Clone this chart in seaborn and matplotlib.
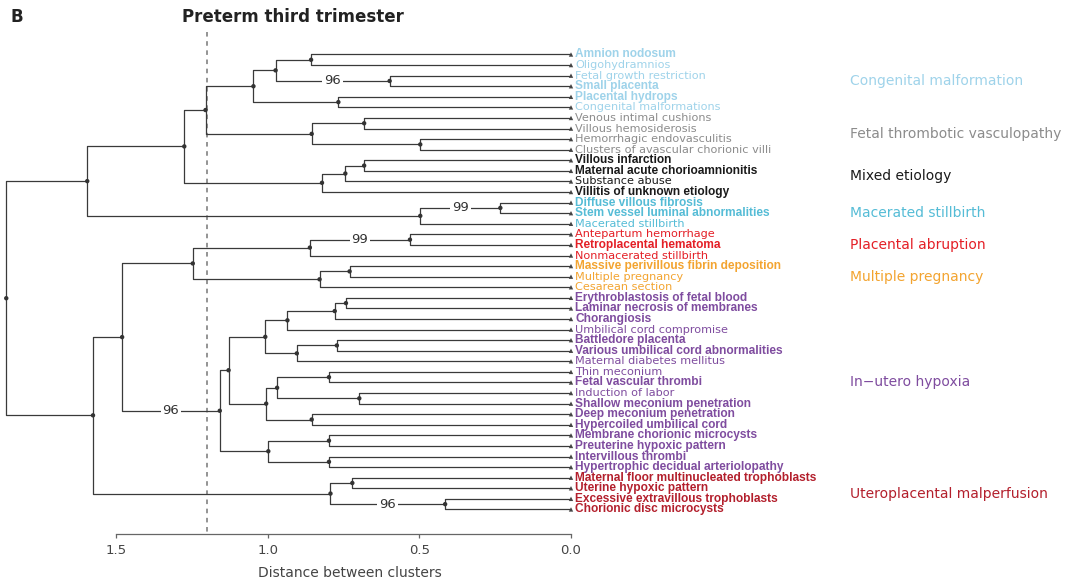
import numpy as np
import pandas as pd
import matplotlib
matplotlib.use("Agg")
import matplotlib.pyplot as plt
import seaborn as sns

# ---------------- data ----------------
leaf_names = [
    "Amnion nodosum", "Oligohydramnios", "Fetal growth restriction", "Small placenta",
    "Placental hydrops", "Congenital malformations",
    "Venous intimal cushions", "Villous hemosiderosis", "Hemorrhagic endovasculitis",
    "Clusters of avascular chorionic villi",
    "Villous infarction", "Maternal acute chorioamnionitis", "Substance abuse",
    "Villitis of unknown etiology",
    "Diffuse villous fibrosis", "Stem vessel luminal abnormalities", "Macerated stillbirth",
    "Antepartum hemorrhage", "Retroplacental hematoma", "Nonmacerated stillbirth",
    "Massive perivillous fibrin deposition", "Multiple pregnancy", "Cesarean section",
    "Erythroblastosis of fetal blood", "Laminar necrosis of membranes", "Chorangiosis",
    "Umbilical cord compromise", "Battledore placenta", "Various umbilical cord abnormalities",
    "Maternal diabetes mellitus", "Thin meconium", "Fetal vascular thrombi",
    "Induction of labor", "Shallow meconium penetration", "Deep meconium penetration",
    "Hypercoiled umbilical cord", "Membrane chorionic microcysts",
    "Preuterine hypoxic pattern", "Intervillous thrombi",
    "Hypertrophic decidual arteriolopathy",
    "Maternal floor multinucleated trophoblasts", "Uterine hypoxic pattern",
    "Excessive extravillous trophoblasts", "Chorionic disc microcysts",
]
leaf_group = [0] * 6 + [1] * 4 + [2] * 4 + [3] * 3 + [4] * 3 + [5] * 3 + [6] * 17 + [7] * 4
leaf_bold = [1, 0, 0, 1, 1, 0,
             0, 0, 0, 0,
             1, 1, 0, 1,
             1, 1, 0,
             0, 1, 0,
             1, 0, 0,
             1, 1, 1, 0, 1, 1, 0, 0, 1, 0, 1, 1, 1, 1, 1, 1, 1,
             1, 1, 1, 1]

group_names = ["Congenital malformation", "Fetal thrombotic vasculopathy", "Mixed etiology",
               "Macerated stillbirth", "Placental abruption", "Multiple pregnancy",
               "In\u2212utero hypoxia", "Uteroplacental malperfusion"]
group_colors = ["#9fd3ea", "#8c8c8c", "#1a1a1a", "#55bcd6",
                "#e41f26", "#f3a430", "#7f4c9f", "#b31f2c"]

# agglomeration: ids < 44 are leaves, id 44 + k is merge k
merge_left = [0, 2, 44, 4, 46, 6, 8, 49, 48, 10, 53, 54, 52, 14, 57, 56,
              17, 60, 20, 62, 61, 23, 65, 66, 27, 68, 67, 30, 32, 71, 34, 73,
              70, 36, 38, 77, 76, 64, 40, 42, 82, 81, 59]
merge_right = [1, 3, 45, 5, 47, 7, 9, 50, 51, 11, 12, 13, 55, 15, 16, 58,
               18, 19, 21, 22, 63, 24, 25, 26, 28, 29, 69, 31, 33, 72, 35, 74,
               75, 37, 39, 78, 79, 80, 41, 43, 83, 84, 85]
merge_height = [0.857, 0.598, 0.974, 0.767, 1.047, 0.682, 0.497, 0.855, 1.205,
                0.682, 0.744, 0.821, 1.275, 0.233, 0.497, 1.595,
                0.531, 0.861, 0.730, 0.829, 1.247, 0.742, 0.779, 0.935,
                0.772, 0.904, 1.008, 0.798, 0.698, 0.969, 0.855, 1.005,
                1.129, 0.798, 0.798, 0.998, 1.158, 1.480, 0.721, 0.415,
                0.793, 1.576, 1.862]

support_node = [45, 57, 60, 80, 83]
support_value = [96, 99, 99, 96, 96]

cut_height = 1.2
axis_ticks = [1.5, 1.0, 0.5, 0.0]
axis_tick_labels = ["1.5", "1.0", "0.5", "0.0"]
panel_letter = "B"
panel_title = "Preterm third trimester"
axis_title = "Distance between clusters"

# ---------------- tree geometry ----------------
n_leaf = len(leaf_names)
n_node = n_leaf + len(merge_height)
height = np.zeros(n_node)
row = np.zeros(n_node)
parent = np.full(n_node, -1)
row[:n_leaf] = np.arange(n_leaf)
for k, (a, b, h) in enumerate(zip(merge_left, merge_right, merge_height)):
    p = n_leaf + k
    height[p] = h
    row[p] = (row[a] + row[b]) / 2
    parent[a] = parent[b] = p

segments = []
for k, (a, b) in enumerate(zip(merge_left, merge_right)):
    p = n_leaf + k
    for c in (a, b):
        e = f"{p}-{c}"
        segments += [(e, 0, height[p], row[p]),
                     (e, 1, height[p], row[c]),
                     (e, 2, height[c], row[c])]
edges = pd.DataFrame(segments, columns=["edge", "step", "dist", "row"])
nodes = pd.DataFrame({"dist": height[n_leaf:], "row": row[n_leaf:]})
tips = pd.DataFrame({"dist": np.zeros(n_leaf), "row": row[:n_leaf]})

# ---------------- figure ----------------
sns.set_theme(style="white")
plt.rcParams["font.family"] = ["DejaVu Sans"]

W, H = 1071, 584
fig = plt.figure(figsize=(W / 100, H / 100), dpi=100)
ax = fig.add_axes([0, 0, 1, 1])
ax.patch.set_alpha(0)

# pixel frame of the panel
zero_px, px_per_unit = 571.0, 303.3
first_row_px, row_px = 54.5, 10.58
ax.set_xlim(zero_px / px_per_unit, (zero_px - W) / px_per_unit)
ax.set_ylim((H - first_row_px) / row_px, -first_row_px / row_px)
axis_row = (534 - first_row_px) / row_px

sns.lineplot(data=edges, x="dist", y="row", units="edge", estimator=None, sort=False,
             color="#3a3a3a", linewidth=0.9, ax=ax, legend=False)
sns.scatterplot(data=nodes, x="dist", y="row", s=10, color="#333333",
                edgecolor="none", ax=ax, zorder=3, legend=False)
sns.scatterplot(data=tips, x="dist", y="row", marker="^", s=10, color="#444444",
                edgecolor="none", ax=ax, zorder=3, legend=False)

# bootstrap support on the branch above each supported node
for node, val in zip(support_node, support_value):
    xm = (height[parent[node]] + height[node]) / 2
    ax.text(xm, row[node], str(val), ha="center", va="center", fontsize=9.5,
            color="#333333", zorder=4,
            bbox=dict(boxstyle="square,pad=0.15", fc="white", ec="none"))

# leaf labels
for i, name in enumerate(leaf_names):
    if leaf_bold[i]:
        style = dict(family=["Liberation Sans", "DejaVu Sans"], fontweight="bold", fontsize=8.6)
    else:
        style = dict(family=["DejaVu Sans"], fontweight="normal", fontsize=8.1)
    ax.annotate(name, (0, row[i]), xytext=(3, 0), textcoords="offset points",
                ha="left", va="center", color=group_colors[leaf_group[i]], **style)

# cluster names
group_x = (zero_px - 850) / px_per_unit
for g, gname in enumerate(group_names):
    members = [row[i] for i in range(n_leaf) if leaf_group[i] == g]
    ax.text(group_x, np.mean(members), gname, ha="left", va="center",
            fontsize=10, color=group_colors[g])

# cut line
ax.plot([cut_height, cut_height], [(32 - first_row_px) / row_px, axis_row],
        ls=(0, (3, 3)), color="#777777", lw=1.1, zorder=1)

# distance axis
for s in ("left", "right", "top"):
    ax.spines[s].set_visible(False)
ax.spines["bottom"].set_position(("data", axis_row))
ax.spines["bottom"].set_bounds(0, 1.5)
ax.spines["bottom"].set_color("#666666")
ax.spines["bottom"].set_linewidth(0.9)
ax.set_xticks(axis_ticks)
ax.set_xticklabels(axis_tick_labels)
ax.set_yticks([])
ax.tick_params(axis="x", bottom=True, direction="out", length=3, width=0.9,
               color="#666666", pad=4, labelsize=9.5, labelcolor="#444444")
ax.set_xlabel("")
ax.set_ylabel("")
ax.text(0.73, (573 - first_row_px) / row_px, axis_title, ha="center", va="center",
        fontsize=10, color="#444444")

fig.text(10 / W, 1 - 17 / H, panel_letter, ha="left", va="center",
         fontsize=12, fontweight="bold", color="#222222")
fig.text(293 / W, 1 - 17 / H, panel_title, ha="center", va="center",
         fontsize=12, fontweight="bold", color="#222222")

fig.savefig("out.png", dpi=100, facecolor="white")
